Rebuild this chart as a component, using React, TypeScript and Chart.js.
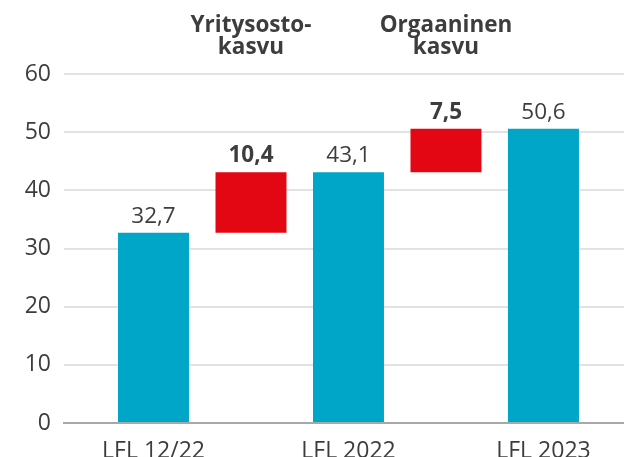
import React, { useEffect, useRef } from "react";
import { Chart, registerables } from "chart.js";

Chart.register(...registerables);

const categories = ["LFL 12/22", "", "LFL 2022", "", "LFL 2023"];
const barStarts = [0, 32.7, 0, 43.1, 0];
const barEnds = [32.7, 43.1, 43.1, 50.6, 50.6];
const valueLabels = ["32,7", "10,4", "43,1", "7,5", "50,6"];
const barKinds = ["total", "change", "total", "change", "total"];
const headerLabels = [null, ["Yritysosto-", "kasvu"], null, ["Orgaaninen", "kasvu"], null];
const labelledTicks = [0, 2, 4];

const BLUE = "#00A6C7";
const RED = "#E30613";
const TEXT = "#3d3d3d";
const FONT = "'Open Sans', sans-serif";

const labelPlugin = {
  id: "waterfallLabels",
  afterDatasetsDraw(chart: any) {
    const ctx = chart.ctx;
    const meta = chart.getDatasetMeta(0);
    ctx.save();
    ctx.fillStyle = TEXT;
    ctx.textAlign = "center";
    ctx.textBaseline = "alphabetic";
    meta.data.forEach((el: any, i: number) => {
      const top = Math.min(el.y, el.base);
      const bold = barKinds[i] === "change";
      ctx.font = `${bold ? "bold " : ""}22.5px ${FONT}`;
      ctx.fillText(valueLabels[i], el.x, top - 10);
      const h = headerLabels[i];
      if (h) {
        ctx.font = `bold 22.5px ${FONT}`;
        const t = chart.chartArea.top;
        ctx.fillText(h[0], el.x, t - 42);
        ctx.fillText(h[1], el.x, t - 20);
      }
    });
    ctx.restore();
  },
};

export default function App() {
  const ref = useRef<HTMLCanvasElement>(null);
  useEffect(() => {
    document.body.style.margin = "0";
    const chart = new Chart(ref.current!, {
      type: "bar",
      data: {
        datasets: [
          {
            data: categories.map((_, i) => ({ x: i, y: [barStarts[i], barEnds[i]] })) as any,
            backgroundColor: barKinds.map((k) => (k === "change" ? RED : BLUE)),
            borderWidth: 0,
            barPercentage: 0.728,
            categoryPercentage: 1,
          },
        ],
      },
      options: {
        animation: false,
        responsive: false,
        maintainAspectRatio: false,
        layout: { padding: { top: 74, left: 0, right: 0, bottom: 0 } },
        plugins: { legend: { display: false }, tooltip: { enabled: false } },
        scales: {
          x: {
            type: "linear",
            offset: false,
            min: -0.918,
            max: 4.826,
            grid: { display: false, offset: false },
            border: { display: true, color: "#a8a8a8", width: 2 },
            afterBuildTicks: (scale: any) => {
              scale.ticks = labelledTicks.map((v) => ({ value: v }));
            },
            afterFit: (scale: any) => {
              scale.height = 34;
            },
            ticks: {
              padding: 7,
              color: TEXT,
              font: { family: FONT, size: 23 },
              maxRotation: 0,
              callback: (v: any) => categories[v] ?? "",
            },
          },
          y: {
            min: 0,
            max: 60,
            ticks: {
              stepSize: 10,
              padding: 13,
              color: TEXT,
              font: { family: FONT, size: 23 },
            },
            grid: {
              drawTicks: false,
              color: "#e2e2e2",
              lineWidth: 2,
            },
            border: { display: false },
            afterFit: (scale: any) => {
              scale.width = 64;
            },
          },
        },
      },
      plugins: [labelPlugin],
    });
    return () => chart.destroy();
  }, []);
  return <canvas ref={ref} width={624} height={457} style={{ display: "block" }} />;
}
